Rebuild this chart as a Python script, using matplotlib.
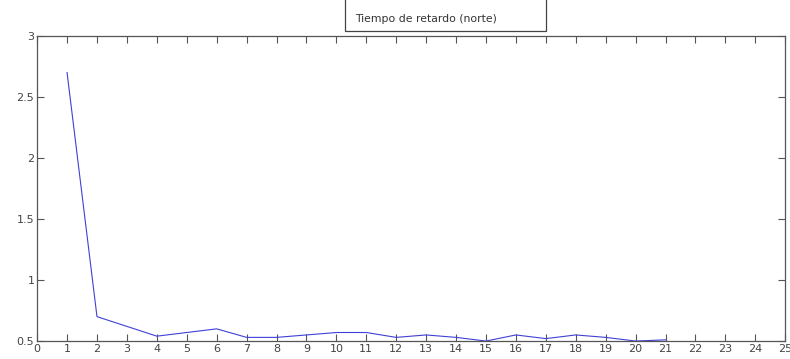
import matplotlib
matplotlib.use("Agg")
import matplotlib.pyplot as plt
from matplotlib.patches import Rectangle

# Values
dias = [1, 2, 3, 4, 5, 6, 7, 8, 9, 10, 11, 12, 13, 14, 15, 16, 17, 18, 19, 20, 21]
retardo = [2.70, 0.70, 0.62, 0.54, 0.57, 0.60, 0.53, 0.53, 0.55, 0.57, 0.57,
           0.53, 0.55, 0.53, 0.50, 0.55, 0.52, 0.55, 0.53, 0.50, 0.51]
x_ticks = list(range(0, 26))
y_ticks = [0.5, 1, 1.5, 2, 2.5, 3]
y_tick_labels = ['0.5', '1', '1.5', '2', '2.5', '3']
leyenda = 'Tiempo de retardo (norte)'

fig = plt.figure(figsize=(7.9, 3.59), dpi=100)
ax = fig.add_axes([0.047, 0.050, 0.947, 0.850])

ax.plot(dias, retardo, color='#4040d8', linewidth=0.8)

ax.set_xlim(0, 25)
ax.set_ylim(0.5, 3)
ax.set_xticks(x_ticks)
ax.set_yticks(y_ticks)
ax.set_yticklabels(y_tick_labels)

# MATLAB-like box with inward ticks on all sides
ax.tick_params(direction='in', top=True, right=True, length=5, width=0.8,
               color='#555555', labelsize=8, labelcolor='#444444', pad=2)
for s in ax.spines.values():
    s.set_color('#555555')
    s.set_linewidth(0.9)

# legend box partly cut off at the top of the figure
box = Rectangle((345 / 790, 1 - 31 / 359), 201 / 790, 80 / 359,
                transform=fig.transFigure, facecolor='white',
                edgecolor='#444444', linewidth=0.9, clip_on=False)
fig.patches.append(box)
fig.text(355 / 790, 1 - 19 / 359, leyenda, fontsize=7.8, color='#333333',
         va='center', ha='left')

fig.savefig('out.png', dpi=100)
